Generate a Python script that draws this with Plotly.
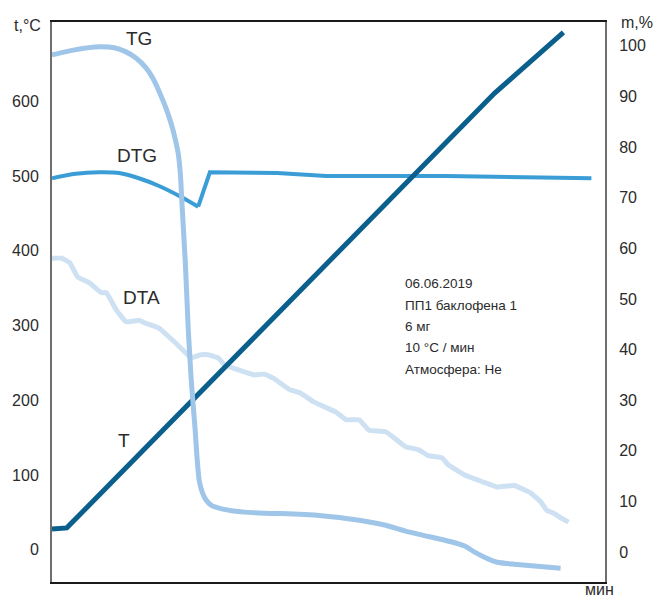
import plotly.graph_objects as go

# Time axis, minutes
t_time = [0, 1.96, 58.6, 67.7]
t_temp = [28, 29.4, 611, 692]

tg_time = [0, 3.01, 6.27, 8.24, 9.80, 11.11, 12.42, 13.46, 14.38, 15.16, 15.82,
           16.34, 16.73, 17.00, 17.25, 17.65, 18.04, 18.43, 18.95, 19.22, 19.48,
           19.87, 20.39, 21.05, 22.61, 25.49, 35.03, 40.65, 44.18, 47.19, 52.94,
           54.64, 55.95, 57.25, 58.95, 61.18, 67.32]
tg_mass = [98.2, 99.2, 99.8, 99.6, 98.8, 97.6, 95.7, 93.3, 90.3, 87.4, 84.4,
           81.4, 78.5, 74.5, 67.6, 57.1, 43.9, 34.0, 24.1, 18.2, 14.2,
           11.9, 10.3, 9.3, 8.5, 7.9, 7.3, 6.3, 5.3, 4.0, 2.0,
           1.2, 0.0, -1.0, -2.0, -2.4, -3.2]

dtg_time = [0, 3.14, 6.27, 8.89, 11.5, 14.1, 17.1, 19.35, 20.9, 29.8, 36.3, 52.0, 71.4]
dtg_val = [497, 503, 505, 504, 497, 487, 472, 459, 505, 504, 500, 500, 497]
DTG_MIN = 7  # index of the DTG minimum, where the smooth arc ends

dta_time = [0, 1.31, 2.35, 3.40, 4.97, 6.54, 7.19, 8.50, 9.80, 11.50, 12.42,
            14.12, 16.34, 18.43, 19.74, 20.65, 21.96, 22.88, 24.58, 26.80, 28.10,
            29.41, 31.50, 32.81, 34.64, 36.34, 37.65, 38.95, 40.65, 41.96, 44.18,
            46.80, 48.50, 49.80, 51.63, 52.42, 54.64, 57.25, 58.95, 61.18, 63.40,
            64.71, 65.49, 66.41, 67.32, 68.37]
dta_val = [390, 390, 384, 365, 357, 344, 344, 321, 305, 307, 303,
           297, 277, 257, 261, 261, 257, 247, 241, 234, 235,
           229, 214, 210, 198, 190, 184, 174, 174, 160, 158,
           138, 134, 126, 123, 114, 100, 90, 84, 86, 76,
           64, 53, 49, 43, 37]

left_ticks = [0, 100, 200, 300, 400, 500, 600]
right_ticks = [0, 10, 20, 30, 40, 50, 60, 70, 80, 90, 100]

info_lines = ["06.06.2019", "ПП1 баклофена 1", "6 мг", "10 °C / мин", "Атмосфера: He"]

FONT = "Liberation Sans, Arial, sans-serif"
TXT = "#2b2b2b"
DTG_COLOR = "#3a9dd6"

fig = go.Figure()
fig.add_trace(go.Scatter(x=dta_time, y=dta_val, mode="lines",
                         line=dict(color="#cde1f3", width=5, shape="spline", smoothing=0.3),
                         yaxis="y"))
fig.add_trace(go.Scatter(x=tg_time, y=tg_mass, mode="lines",
                         line=dict(color="#9fc5e8", width=5, shape="spline", smoothing=0.5),
                         yaxis="y2"))
# DTG: smooth arc up to the minimum, then straight segments
fig.add_trace(go.Scatter(x=dtg_time[:DTG_MIN + 1], y=dtg_val[:DTG_MIN + 1], mode="lines",
                         line=dict(color=DTG_COLOR, width=4, shape="spline", smoothing=0.8),
                         yaxis="y"))
fig.add_trace(go.Scatter(x=dtg_time[DTG_MIN:], y=dtg_val[DTG_MIN:], mode="lines",
                         line=dict(color=DTG_COLOR, width=4), yaxis="y"))
fig.add_trace(go.Scatter(x=t_time, y=t_temp, mode="lines",
                         line=dict(color="#0b5f8c", width=5), yaxis="y"))

annotations = []
for name, xv, yv in [("TG", 11.5, 684), ("DTG", 11.3, 528), ("DTA", 11.9, 337), ("T", 9.5, 146)]:
    annotations.append(dict(x=xv, y=yv, xref="x", yref="y", text=name, showarrow=False,
                            font=dict(family=FONT, size=19, color=TXT)))

y0 = 284
for i, line in enumerate(info_lines):
    py = y0 + i * 21.3
    annotations.append(dict(x=46.4, y=(550 - py) / 0.748, xref="x", yref="y", text=line,
                            xanchor="left", showarrow=False,
                            font=dict(family=FONT, size=13.5, color=TXT)))

annotations += [
    dict(x=-0.016, y=1.012, xref="paper", yref="paper", text="t,°C", showarrow=False,
         xanchor="right", yanchor="top", font=dict(family=FONT, size=16, color=TXT)),
    dict(x=1.026, y=1.018, xref="paper", yref="paper", text="m,%", showarrow=False,
         xanchor="left", yanchor="top", font=dict(family=FONT, size=16, color=TXT)),
    dict(x=0.99, y=-0.033, xref="paper", yref="paper", text="мин", showarrow=False,
         xanchor="center", yanchor="bottom", font=dict(family=FONT, size=16, color=TXT)),
]

fig.update_layout(
    width=658, height=601,
    margin=dict(l=52, r=46, t=22, b=19),
    paper_bgcolor="white", plot_bgcolor="white",
    showlegend=False,
    font=dict(family=FONT, size=16, color=TXT),
    xaxis=dict(range=[0, 73.2], showgrid=False, zeroline=False, showticklabels=False,
               ticks="", showline=True, mirror=True, linecolor="#1a1a1a", linewidth=2),
    yaxis=dict(range=[-43, 706], tickvals=left_ticks, showgrid=False, zeroline=False,
               ticks="", showline=True, linecolor="#6e6e6e", linewidth=2,
               ticklabelstandoff=8, tickfont=dict(size=16, color=TXT)),
    yaxis2=dict(range=[-5.9, 104.7], tickvals=right_ticks, overlaying="y", side="right",
                showgrid=False, zeroline=False, ticks="", showline=True,
                linecolor="#6e6e6e", linewidth=2, ticklabelstandoff=9,
                tickfont=dict(size=16, color=TXT)),
    annotations=annotations,
)

fig.write_html("out.html")
